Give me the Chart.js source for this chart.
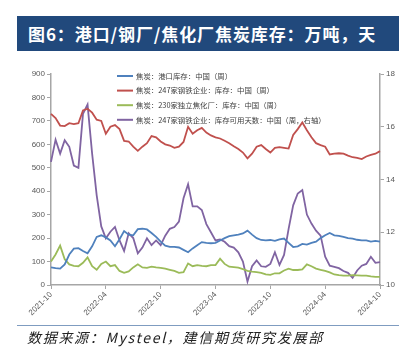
<!DOCTYPE html>
<html>
<head>
<meta charset="utf-8">
<script src="https://cdn.jsdelivr.net/npm/chart.js@4.4.1/dist/chart.umd.min.js"></script>
<style>
  html, body { margin:0; padding:0; background:#fff; }
  body { width:410px; height:355px; position:relative; overflow:hidden; }
  #wrap { position:absolute; left:0; top:0; width:410px; height:355px; }
  #title { position:absolute; left:17px; top:16px; width:382px; height:35px; background:#21497c;
    color:#fff; font-family:"Noto Sans CJK SC"; font-weight:bold; font-size:17px; line-height:35px;
    padding-left:11px; box-sizing:border-box; letter-spacing:0.9px; white-space:nowrap; }
  #rule { position:absolute; left:17px; top:325px; width:382px; height:0; border-top:1.5px solid #7f9cc0; }
  #src { position:absolute; left:27px; top:327px; font-family:"Noto Sans CJK SC"; font-style:italic;
    font-size:14px; color:#222; white-space:nowrap; letter-spacing:1.7px; }
</style>
</head>
<body>
<div id="wrap"><canvas id="c"></canvas></div>
<div id="title">图6：港口/钢厂/焦化厂焦炭库存：万吨，天</div>
<div id="rule"></div>
<div id="src">数据来源：Mysteel，建信期货研究发展部</div>
<script>
const dates = [
"2021-10-01","2021-10-16","2021-11-01","2021-11-16","2021-12-01","2021-12-16",
"2022-01-01","2022-01-16","2022-02-01","2022-02-16","2022-03-01","2022-03-16",
"2022-04-01","2022-04-16","2022-05-01","2022-05-16","2022-06-01","2022-06-16",
"2022-07-01","2022-07-16","2022-08-01","2022-08-16","2022-09-01","2022-09-16",
"2022-10-01","2022-10-16","2022-11-01","2022-11-16","2022-12-01","2022-12-16",
"2023-01-01","2023-01-16","2023-02-01","2023-02-16","2023-03-01","2023-03-16",
"2023-04-01","2023-04-16","2023-05-01","2023-05-16","2023-06-01","2023-06-16",
"2023-07-01","2023-07-16","2023-08-01","2023-08-16","2023-09-01","2023-09-16",
"2023-10-01","2023-10-16","2023-11-01","2023-11-16","2023-12-01","2023-12-16",
"2024-01-01","2024-01-16","2024-02-01","2024-02-16","2024-03-01","2024-03-16",
"2024-04-01","2024-04-16","2024-05-01","2024-05-16","2024-06-01","2024-06-16",
"2024-07-01","2024-07-16","2024-08-01","2024-08-16","2024-09-01","2024-09-16",
"2024-10-01"];

const tickLabels = ["2021-10","2022-04","2022-10","2023-04","2023-10","2024-04","2024-10"];

const seriesNames = [
  "焦炭：港口库存：中国（周）",
  "焦炭：247家钢铁企业：库存：中国（周）",
  "焦炭：230家独立焦化厂：库存：中国（周）",
  "焦炭：247家钢铁企业：库存可用天数：中国（周，右轴）"
];

// 港口库存 (万吨)
const portStock = [
  75,72,70,88,130,155, 157,145,135,165,205,212,
  203,190,165,195,230,215, 212,238,240,237,222,205,
  185,168,163,163,160,150, 140,156,170,183,180,178,
  180,190,200,208,212,215, 220,232,215,200,192,190,
  192,188,195,198,180,162, 165,175,172,180,185,200,
  212,222,212,210,205,200, 198,193,190,190,185,188,
  185];

// 247家钢铁企业库存 (万吨)
const millStock = [
  730,712,680,678,690,686, 690,745,752,735,705,700,
  645,675,682,665,615,612, 590,572,590,605,635,630,
  612,600,595,585,590,610, 675,645,660,670,650,638,
  630,625,615,605,592,580, 565,540,560,590,597,580,
  565,585,588,585,582,640, 665,693,660,630,605,597,
  590,557,560,562,560,552, 545,542,537,548,555,560,
  571];

// 230家独立焦化厂库存 (万吨)
const cokerStock = [
  100,130,168,110,88,82, 80,95,118,80,65,90,
  100,80,85,60,52,58, 75,88,75,73,78,75,
  73,70,65,60,52,55, 92,80,85,82,80,85,
  85,112,90,78,76,74, 68,60,57,55,52,45,
  43,50,50,62,70,64, 64,67,88,80,70,65,
  60,54,45,42,40,40, 42,41,40,40,37,35,
  35];

// 247家钢铁企业库存可用天数 (天, 右轴)
const millDays = [
  14.67,15.51,14.98,15.49,15.24,14.53, 14.44,16.49,16.84,14.98,13.40,12.22,
  11.77,12.02,12.20,11.69,11.29,11.96, 11.78,11.20,11.42,11.77,11.51,11.69,
  11.51,11.87,12.13,12.20,12.40,13.29, 13.82,12.98,12.98,12.84,12.31,12.00,
  11.69,11.73,11.64,11.47,11.42,11.24, 10.89,10.13,10.71,10.93,10.71,10.69,
  10.80,11.24,10.76,11.14,12.13,13.02, 13.47,13.60,12.67,12.33,12.06,11.87,
  11.07,10.73,10.69,10.64,10.53,10.46, 10.27,10.55,10.73,10.80,11.07,10.84,
  10.87];

const colors = ["#4F81BD","#C0504D","#9BBB59","#8064A2"];
const axisColor = "#a6a6a6";
const tickFont = { family: "Liberation Sans", size: 8 };

const insideLegend = {
  id: "insideLegend",
  afterDraw(chart) {
    const ctx = chart.ctx;
    ctx.save();
    ctx.font = '7.4px "Noto Sans CJK SC"';
    ctx.textBaseline = "middle";
    chart.data.datasets.forEach((ds, i) => {
      const y = 76 + i * 14.6;
      ctx.strokeStyle = ds.borderColor;
      ctx.lineWidth = 2;
      ctx.beginPath(); ctx.moveTo(117, y); ctx.lineTo(133, y); ctx.stroke();
      ctx.fillStyle = "#404040";
      ctx.fillText(ds.label, 136, y);
    });
    ctx.restore();
  }
};

const mk = (label, data, color, axis) => ({
  label, data, borderColor: color, backgroundColor: color, yAxisID: axis,
  borderWidth: 1.8, pointRadius: 0, tension: 0, fill: false
});

new Chart(document.getElementById("c"), {
  type: "line",
  data: {
    labels: dates,
    datasets: [
      mk(seriesNames[0], portStock, colors[0], "y"),
      mk(seriesNames[1], millStock, colors[1], "y"),
      mk(seriesNames[2], cokerStock, colors[2], "y"),
      mk(seriesNames[3], millDays, colors[3], "y1")
    ]
  },
  options: {
    responsive: true, maintainAspectRatio: false, animation: false,
    layout: { padding: { left: 0, right: 0, top: 74, bottom: 0 } },
    plugins: { legend: { display: false }, tooltip: { enabled: false } },
    scales: {
      x: {
        type: "category", offset: false,
        afterFit: s => { s.height = 70; },
        border: { display: true, color: axisColor, width: 1.5 },
        grid: { drawOnChartArea: false, drawTicks: true, tickLength: 4, color: axisColor },
        ticks: {
          autoSkip: false, minRotation: 45, maxRotation: 45, padding: 1,
          font: tickFont, color: "#595959",
          callback: function(v, i) {
            const d = dates[i];
            if (d.endsWith("-01") && tickLabels.includes(d.slice(0, 7))) return d.slice(0, 7);
            return null;
          }
        }
      },
      y: {
        position: "left", min: 0, max: 900,
        afterFit: s => { s.width = 51; },
        border: { display: true, color: axisColor, width: 1.5 },
        grid: { drawOnChartArea: false, drawTicks: true, tickLength: 4, color: axisColor },
        ticks: { stepSize: 100, font: tickFont, color: "#595959", padding: 2 }
      },
      y1: {
        position: "right", min: 10, max: 18,
        afterFit: s => { s.width = 30; },
        border: { display: true, color: axisColor, width: 1.5 },
        grid: { drawOnChartArea: false, drawTicks: true, tickLength: 4, color: axisColor },
        ticks: { stepSize: 2, font: tickFont, color: "#595959", padding: 2 }
      }
    }
  },
  plugins: [insideLegend]
});
</script>
</body>
</html>
